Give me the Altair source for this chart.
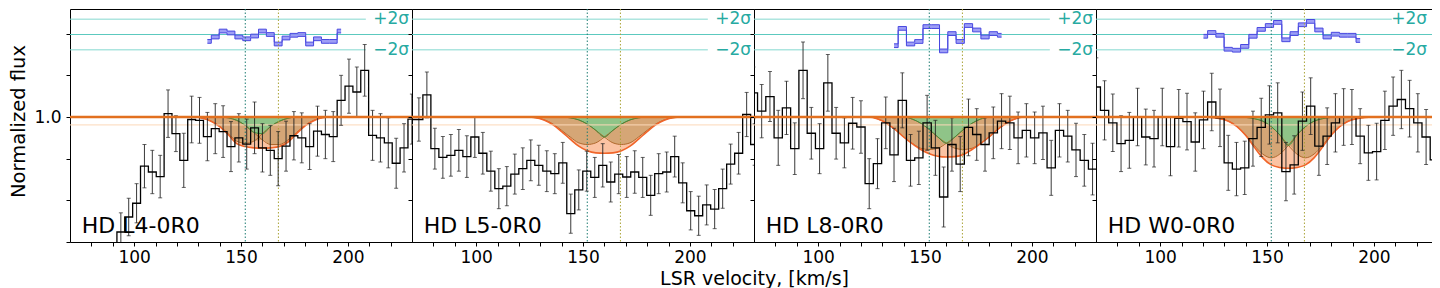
import altair as alt
import pandas as pd

# ---------------- values ----------------
PANEL_LABELS = ["HD L4-0R0", "HD L5-0R0", "HD L8-0R0", "HD W0-0R0"]

# centre of first bin [km/s] and bin width [km/s] of each spectrum
BIN_START = [71.71, 69.48, 69.72, 70.15]
BIN_WIDTH = [3.68, 3.74, 3.87, 3.857]

FLUX = [
    [0.600, 0.620, 0.580, 0.630, 0.650, 0.640, 0.724, 0.760, 0.793, 0.882, 0.868,
     0.857, 1.008, 0.960, 0.896, 0.994, 0.992, 0.953, 0.972, 0.965, 0.929, 0.950,
     0.935, 0.974, 0.926, 0.920, 0.900, 0.930, 0.955, 0.950, 0.929, 0.966, 0.958,
     0.953, 1.040, 1.074, 1.060, 1.112, 0.956, 0.950, 0.938, 0.889, 0.926, 0.995],
    [0.994, 0.994, 1.053, 0.924, 0.903, 0.908, 0.920, 0.905, 0.952, 0.913, 0.870,
     0.828, 0.834, 0.863, 0.876, 0.896, 0.884, 0.870, 0.864, 0.890, 0.768, 0.825,
     0.870, 0.855, 0.884, 0.844, 0.863, 0.856, 0.868, 0.855, 0.812, 0.864, 0.868,
     0.905, 0.842, 0.775, 0.763, 0.789, 0.779, 0.828, 0.887, 0.913, 1.006, 0.934],
    [1.058, 1.014, 1.049, 0.950, 1.022, 0.924, 1.112, 0.961, 0.924, 1.082, 0.961,
     0.938, 0.985, 0.976, 0.840, 0.888, 0.986, 0.909, 1.040, 0.896, 0.902, 0.986,
     0.926, 0.808, 0.934, 0.887, 0.975, 0.958, 0.934, 0.962, 0.990, 0.986, 0.950,
     0.968, 0.950, 0.962, 0.878, 0.968, 0.954, 0.921, 0.896, 0.875, 0.875],
    [1.072, 1.016, 0.986, 0.936, 0.944, 1.000, 0.952, 0.948, 1.000, 0.929, 0.997,
     0.989, 0.940, 0.993, 1.036, 0.998, 0.890, 0.875, 0.878, 0.948, 0.975, 1.005,
     1.010, 0.869, 0.885, 0.990, 1.026, 0.930, 0.954, 0.986, 1.000, 1.000, 0.954,
     0.914, 0.917, 0.992, 1.026, 1.042, 1.020, 0.986, 0.952, 0.897, 0.897],
]

ERR = [
    [0.040, 0.040, 0.040, 0.040, 0.040, 0.045, 0.046, 0.045, 0.047, 0.052, 0.052,
     0.051, 0.057, 0.043, 0.065, 0.056, 0.055, 0.058, 0.060, 0.062, 0.060, 0.058,
     0.060, 0.062, 0.058, 0.060, 0.065, 0.060, 0.058, 0.060, 0.055, 0.060, 0.058,
     0.060, 0.060, 0.065, 0.060, 0.062, 0.060, 0.058, 0.060, 0.060, 0.058, 0.060],
    [0.050, 0.052, 0.055, 0.049, 0.050, 0.050, 0.050, 0.050, 0.049, 0.050, 0.048,
     0.048, 0.047, 0.048, 0.050, 0.049, 0.048, 0.049, 0.048, 0.049, 0.047, 0.048,
     0.048, 0.048, 0.052, 0.048, 0.047, 0.049, 0.051, 0.048, 0.048, 0.048, 0.048,
     0.049, 0.048, 0.046, 0.047, 0.048, 0.047, 0.047, 0.048, 0.050, 0.053, 0.050],
    [0.062, 0.064, 0.060, 0.066, 0.064, 0.062, 0.068, 0.062, 0.060, 0.068, 0.062,
     0.060, 0.062, 0.063, 0.060, 0.060, 0.062, 0.064, 0.066, 0.062, 0.064, 0.066,
     0.066, 0.072, 0.064, 0.066, 0.068, 0.062, 0.064, 0.062, 0.066, 0.064, 0.062,
     0.064, 0.062, 0.064, 0.066, 0.064, 0.062, 0.064, 0.062, 0.062, 0.062],
    [0.070, 0.071, 0.069, 0.067, 0.067, 0.069, 0.067, 0.068, 0.069, 0.070, 0.069,
     0.068, 0.070, 0.069, 0.069, 0.069, 0.066, 0.064, 0.064, 0.066, 0.070, 0.070,
     0.072, 0.070, 0.070, 0.070, 0.068, 0.070, 0.068, 0.070, 0.068, 0.066, 0.066,
     0.066, 0.068, 0.070, 0.070, 0.070, 0.068, 0.070, 0.066, 0.066, 0.066],
]

# residuals of the fit in units of sigma, starting at bin index RES_FIRST
RES_FIRST = [17, None, 17, 13]
RESID = [
    [-0.90, -0.33, 0.45, 0.20, -0.33, -0.56, -0.20, 0.45, 0.00, -1.24, -0.46,
     -0.10, 0.00, -1.24, -0.56, -0.90, -0.90, 0.45],
    [],
    [-1.46, 0.80, -1.24, -0.91, 1.03, 1.03, -2.14, 0.12, -0.91, 1.17, 0.59,
     -0.33, 0.12, -0.10],
    [-0.23, 0.26, -0.10, -1.92, -2.05, -1.55, -0.23, 0.67, 1.17, 1.58, -0.69,
     0.12, 1.27, 1.71, 0.59, -0.33, 0.04, -0.10, -0.10, -0.78],
]

# model absorption profiles (two components A, B and total T)
MODEL_V = [120, 124, 128, 132, 136, 140, 144, 148, 152, 156, 160, 164, 168, 172,
           176, 180, 184, 188, 192, 196, 200]
COMP_A = [
    [1.000, 1.000, 1.000, 0.997, 0.990, 0.978, 0.960, 0.942, 0.937, 0.942, 0.960,
     0.978, 0.990, 0.997, 1.000, 1.000, 1.000, 1.000, 1.000, 1.000, 1.000],
    [1.000, 1.000, 0.998, 0.993, 0.983, 0.968, 0.952, 0.938, 0.934, 0.938, 0.952,
     0.968, 0.983, 0.993, 0.998, 1.000, 1.000, 1.000, 1.000, 1.000, 1.000],
    [1.000, 1.000, 0.995, 0.985, 0.970, 0.952, 0.937, 0.925, 0.922, 0.925, 0.937,
     0.952, 0.970, 0.985, 0.995, 1.000, 1.000, 1.000, 1.000, 1.000, 1.000],
    [1.000, 0.999, 0.996, 0.990, 0.977, 0.957, 0.932, 0.911, 0.902, 0.911, 0.932,
     0.957, 0.977, 0.990, 0.996, 0.999, 1.000, 1.000, 1.000, 1.000, 1.000],
]
COMP_B = [
    [1.000, 1.000, 1.000, 1.000, 1.000, 1.000, 0.998, 0.992, 0.980, 0.963, 0.945,
     0.934, 0.934, 0.945, 0.963, 0.980, 0.992, 0.998, 1.000, 1.000, 1.000],
    [1.000, 1.000, 1.000, 1.000, 1.000, 1.000, 0.998, 0.993, 0.983, 0.968, 0.952,
     0.938, 0.934, 0.938, 0.952, 0.968, 0.983, 0.993, 0.998, 1.000, 1.000],
    [1.000, 1.000, 1.000, 1.000, 1.000, 1.000, 0.995, 0.985, 0.970, 0.952, 0.937,
     0.925, 0.922, 0.925, 0.937, 0.952, 0.970, 0.985, 0.995, 1.000, 1.000],
    [1.000, 1.000, 1.000, 1.000, 1.000, 0.999, 0.996, 0.990, 0.977, 0.957, 0.932,
     0.911, 0.902, 0.911, 0.932, 0.957, 0.977, 0.990, 0.996, 0.999, 1.000],
]
TOTAL = [
    [1.000, 1.000, 1.000, 0.997, 0.990, 0.977, 0.958, 0.936, 0.929, 0.926, 0.925,
     0.926, 0.929, 0.940, 0.960, 0.979, 0.991, 0.998, 1.000, 1.000, 1.000],
    [1.000, 1.000, 0.998, 0.992, 0.981, 0.965, 0.947, 0.930, 0.919, 0.914, 0.913,
     0.914, 0.919, 0.930, 0.947, 0.965, 0.981, 0.992, 0.998, 1.000, 1.000],
    [1.000, 1.000, 0.995, 0.985, 0.970, 0.952, 0.936, 0.922, 0.912, 0.906, 0.904,
     0.905, 0.910, 0.922, 0.936, 0.952, 0.970, 0.985, 0.995, 1.000, 1.000],
    [1.000, 0.999, 0.996, 0.990, 0.977, 0.956, 0.928, 0.902, 0.885, 0.879, 0.877,
     0.879, 0.885, 0.902, 0.928, 0.956, 0.977, 0.990, 0.996, 0.999, 1.000],
]

VLINES = [152.0, 167.5]
X_TICKS = [80, 90, 100, 110, 120, 130, 140, 150, 160, 170, 180, 190, 200, 210, 220]
Y_TICKS = [0.7, 0.8, 0.9, 1.0, 1.1, 1.2]
RES_CENTER = 1.198
RES_SIGMA = 0.0184
SIG_LINE_END = 208.4

# ---------------- styling ----------------
SALMON = "#fbc3a3"
TAN = "#d5a676"
GREEN = "#8fc488"
GREEN_LINE = "#3e8e3e"
COMP_LINE = "#b0692c"
TOTAL_LINE = "#f0652a"
CONT = "#e2701f"
CONT_FAINT = "#fcd8b8"
SIG_TXT = "#27aaa2"
SIG_LINE = "#84d8cf"
SIG_MID = "#5cc9bf"
RES_FILL = "#8d8df5"
RES_LINE = "#4848e0"
VL_COLORS = ["#1d7c72", "#aaa336"]

PW, PH = 342, 233
xs = alt.Scale(domain=[70, 230], nice=False, zero=False)
ys = alt.Scale(domain=[0.7, 1.2592], nice=False, zero=False)


def panel(i):
    # spectrum table
    rows = []
    for k, (f, e) in enumerate(zip(FLUX[i], ERR[i])):
        v = BIN_START[i] + k * BIN_WIDTH[i]
        rows.append({"v": v, "f": f, "lo": f - e, "hi": f + e})
    spec = pd.DataFrame(rows)
    caps = pd.DataFrame(
        [{"v": r["v"], "y": r["lo"]} for r in rows] + [{"v": r["v"], "y": r["hi"]} for r in rows]
    )

    model = pd.DataFrame({
        "v": MODEL_V, "A": COMP_A[i], "B": COMP_B[i], "T": TOTAL[i],
        "lo": [min(a, b) for a, b in zip(COMP_A[i], COMP_B[i])],
        "hi": [max(a, b) for a, b in zip(COMP_A[i], COMP_B[i])],
        "one": [1.0] * len(MODEL_V),
    })

    xaxis_kw = dict(values=X_TICKS,
                    labelExpr="datum.value % 50 == 0 ? datum.label : ''",
                    tickSize=4, labelPadding=3, labelFontSize=17, domain=False,
                    grid=False, labelOverlap=False, labelFlush=False, labelBound=False,
                    tickColor="black", labelColor="black")
    if i == 1:
        xaxis = alt.Axis(title="LSR velocity, [km/s]", titleX=PW, titleY=42,
                         titleAlign="center", titleBaseline="alphabetic",
                         titleFontSize=19, titleFontWeight="normal", **xaxis_kw)
    else:
        xaxis = alt.Axis(title=None, **xaxis_kw)
    yaxis_kw = dict(values=Y_TICKS, tickSize=4, domain=False, grid=False,
                    tickColor="black", labelColor="black")
    if i == 0:
        yaxis = alt.Axis(title="Normalized flux",
                         labelExpr="abs(datum.value - 1) < 0.001 ? '1.0' : ''",
                         labelFontSize=17, labelPadding=5, labelOverlap=False,
                         titleFontSize=19.5, titleFontWeight="normal", titlePadding=5,
                         titleY=112, **yaxis_kw)
    else:
        yaxis = alt.Axis(title=None, labels=False, **yaxis_kw)

    X = lambda f: alt.X(f, scale=xs, axis=xaxis)
    Y = lambda f: alt.Y(f, scale=ys, axis=yaxis)

    layers = []

    # sigma reference lines
    sig = pd.DataFrame({
        "x1": [70, 70, 70],
        "x2": [SIG_LINE_END, 230, SIG_LINE_END],
        "y": [RES_CENTER + 2 * RES_SIGMA, RES_CENTER, RES_CENTER - 2 * RES_SIGMA],
        "c": [SIG_LINE, SIG_MID, SIG_LINE],
    })
    layers.append(alt.Chart(sig).mark_rule(strokeWidth=1).encode(
        x=X("x1:Q"), x2="x2:Q", y=Y("y:Q"), color=alt.Color("c:N", scale=None)))
    sig_txt = pd.DataFrame({"v": [230, 230],
                            "y": [RES_CENTER + 2 * RES_SIGMA, RES_CENTER - 2 * RES_SIGMA],
                            "t": ["+2σ", "−2σ"]})
    # the last panel is trimmed at the page edge, keep its labels inside
    txt_dx = -3 if i < 3 else -11
    layers.append(alt.Chart(sig_txt).mark_text(align="right", baseline="middle", dx=txt_dx,
                                               fontSize=17, color=SIG_TXT).encode(
        x=X("v:Q"), y=Y("y:Q"), text="t:N"))

    # residuals
    if RES_FIRST[i] is not None:
        rr = []
        for j, r in enumerate(RESID[i]):
            v = BIN_START[i] + (RES_FIRST[i] + j) * BIN_WIDTH[i]
            c = RES_CENTER + r * RES_SIGMA
            rr.append({"v": v, "lo": c - 0.0045, "hi": c + 0.0045})
        res = pd.DataFrame(rr)
        layers.append(alt.Chart(res).mark_area(interpolate="step", color=RES_FILL,
                                               opacity=0.85).encode(
            x=X("v:Q"), y=Y("lo:Q"), y2="hi:Q"))
        for col in ["lo", "hi"]:
            layers.append(alt.Chart(res).mark_line(interpolate="step", color=RES_LINE,
                                                   strokeWidth=1).encode(
                x=X("v:Q"), y=Y(f"{col}:Q")))

    # model fills
    layers.append(alt.Chart(model).mark_area(interpolate="monotone", color=SALMON,
                                             clip=True).encode(
        x=X("v:Q"), y=Y("T:Q"), y2="one:Q"))
    layers.append(alt.Chart(model).mark_area(interpolate="monotone", color=TAN,
                                             clip=True).encode(
        x=X("v:Q"), y=Y("lo:Q"), y2="one:Q"))
    layers.append(alt.Chart(model).mark_area(interpolate="monotone", color=GREEN,
                                             clip=True).encode(
        x=X("v:Q"), y=Y("hi:Q"), y2="one:Q"))
    for col, colr, sw in [("A", COMP_LINE, 1), ("B", COMP_LINE, 1),
                          ("hi", GREEN_LINE, 1), ("T", TOTAL_LINE, 1.6)]:
        layers.append(alt.Chart(model).mark_line(interpolate="monotone", color=colr,
                                                 strokeWidth=sw, clip=True).encode(
            x=X("v:Q"), y=Y(f"{col}:Q")))

    # vertical dotted velocity markers
    vl = pd.DataFrame({"v": VLINES, "c": VL_COLORS})
    layers.append(alt.Chart(vl).mark_rule(strokeDash=[1.5, 2], strokeWidth=1).encode(
        x=X("v:Q"), color=alt.Color("c:N", scale=None)))

    # faint continuum copy
    layers.append(alt.Chart(pd.DataFrame({"y": [0.981]})).mark_rule(
        color=CONT_FAINT, strokeWidth=1).encode(y=Y("y:Q")))

    # error bars + caps
    layers.append(alt.Chart(spec).mark_rule(color="#222222", strokeWidth=0.9,
                                            clip=True).encode(
        x=X("v:Q"), y=Y("lo:Q"), y2="hi:Q"))
    layers.append(alt.Chart(caps).mark_tick(color="#222222", orient="horizontal", size=4,
                                            thickness=1, clip=True).encode(
        x=X("v:Q"), y=Y("y:Q")))

    # spectrum histogram
    layers.append(alt.Chart(spec).mark_line(interpolate="step", color="black",
                                            strokeWidth=1.3, clip=True).encode(
        x=X("v:Q"), y=Y("f:Q")))

    # continuum
    layers.append(alt.Chart(pd.DataFrame({"y": [1.0]})).mark_rule(
        color=CONT, strokeWidth=2.6).encode(y=Y("y:Q")))

    # panel label
    lab = pd.DataFrame({"v": [75.5], "y": [0.739], "t": [PANEL_LABELS[i]]})
    layers.append(alt.Chart(lab).mark_text(align="left", baseline="middle", fontSize=22,
                                           color="black").encode(
        x=X("v:Q"), y=Y("y:Q"), text="t:N"))

    return alt.layer(*layers).properties(width=PW, height=PH)


chart = alt.hconcat(*[panel(i) for i in range(4)], spacing=0, bounds="flush").properties(
    padding={"left": 0, "top": 0, "right": -8, "bottom": 0}
).configure(font="DejaVu Sans").configure_view(
    stroke="black", strokeWidth=1
).configure_axis(labelFont="DejaVu Sans", titleFont="DejaVu Sans", titleColor="black")

chart.save("out.html", embed_options={"renderer": "svg", "actions": False})
